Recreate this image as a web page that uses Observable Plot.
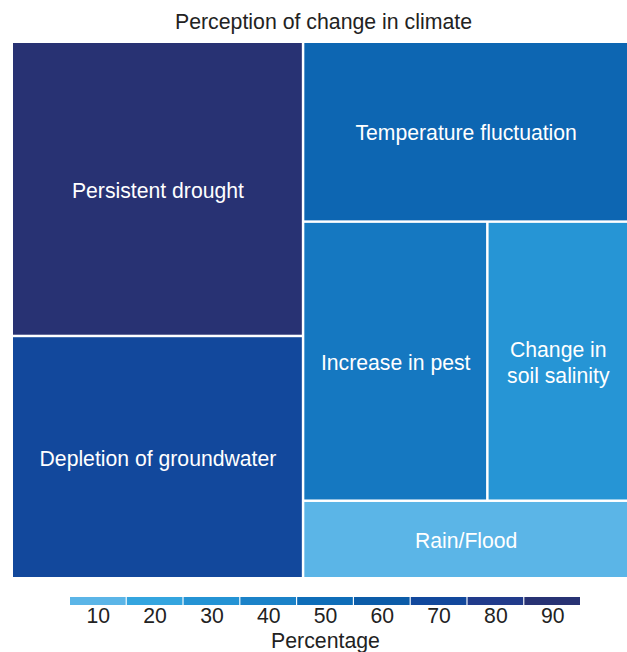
<!DOCTYPE html>
<html><head><meta charset="utf-8">
<script src="https://cdn.jsdelivr.net/npm/d3@7"></script>
<script src="https://cdn.jsdelivr.net/npm/@observablehq/plot@0.6"></script>
<style>
body{margin:0;background:#fff;font-family:"Liberation Sans",Arial,sans-serif;}
#title{height:43px;font-size:21.3px;color:#222;text-align:center;padding-left:20px;line-height:44px;box-sizing:border-box;}
svg{display:block}
</style></head><body>
<div id="title">Perception of change in climate</div>
<div id="chart"></div>
<div id="legend"></div>
<script>
// Data (percentage of respondents)
const categories = ["Persistent drought", "Depletion of groundwater", "Temperature fluctuation", "Increase in pest", "Change in soil salinity", "Rain/Flood"];
const labels = ["Persistent drought", "Depletion of groundwater", "Temperature fluctuation", "Increase in pest", "Change in\nsoil salinity", "Rain/Flood"];
const values = [85, 70, 58, 51, 39, 25];
// treemap grouping (column, row) as arranged in the reference
const columnGroup = ["A", "A", "B", "B", "B", "B"];
const rowGroup = ["A1", "A2", "B1", "B2", "B2", "B3"];
// legend
const legendTicks = [10, 20, 30, 40, 50, 60, 70, 80, 90];
const rampColors = ["#5bb5e7", "#34a5df", "#2493d4", "#1b82c8", "#0e6db8", "#0c5ca8", "#12489c", "#213b8b", "#283273"];

const font = "Liberation Sans, Arial, sans-serif";
const ramp = d3.piecewise(d3.interpolateRgb, rampColors);

const data = categories.map((c, i) => ({category: c, label: labels[i], value: values[i], col: columnGroup[i], row: rowGroup[i]}));
const W = 614, H = 534;
const root = d3.hierarchy(d3.group(data, d => d.col, d => d.row)).sum(d => d.value);
d3.treemap().tile(d3.treemapSliceDice).size([W, H]).paddingInner(2.5)(root);
const leaves = root.leaves();

const chart = Plot.plot({
  width: 627, height: H,
  marginLeft: 13, marginRight: 0, marginTop: 0, marginBottom: 0,
  style: {fontFamily: font, background: "white"},
  x: {domain: [0, W], axis: null},
  y: {domain: [0, H], range: [0, H], axis: null},
  color: {type: "linear", domain: d3.extent(values), interpolate: ramp},
  marks: [
    Plot.rect(leaves, {x1: d => d.x0, x2: d => d.x1, y1: d => d.y0, y2: d => d.y1, fill: d => d.data.value}),
    Plot.text(leaves, {x: d => (d.x0 + d.x1) / 2, y: d => (d.y0 + d.y1) / 2, text: d => d.data.label,
      fill: "white", fontSize: 21.2, lineHeight: 1.22})
  ]
});
document.getElementById("chart").append(chart);

const legend = Plot.plot({
  width: 627, height: 82,
  marginLeft: 70, marginRight: 47, marginTop: 20, marginBottom: 54,
  style: {fontFamily: font, background: "white"},
  x: {type: "band", domain: legendTicks, paddingInner: 0.02, paddingOuter: 0, round: false, axis: null},
  color: {type: "linear", domain: [d3.min(legendTicks), d3.max(legendTicks)], interpolate: ramp},
  marks: [
    Plot.cell(legendTicks, {x: d => d, fill: d => d}),
    Plot.text(legendTicks, {x: d => d, text: d => String(d), frameAnchor: "bottom", dy: 17, fill: "#222", fontSize: 21.2}),
    Plot.text(["Percentage"], {text: d => d, frameAnchor: "bottom", dy: 42, fill: "#222", fontSize: 21.3})
  ]
});
document.getElementById("legend").append(legend);
</script>
</body></html>
